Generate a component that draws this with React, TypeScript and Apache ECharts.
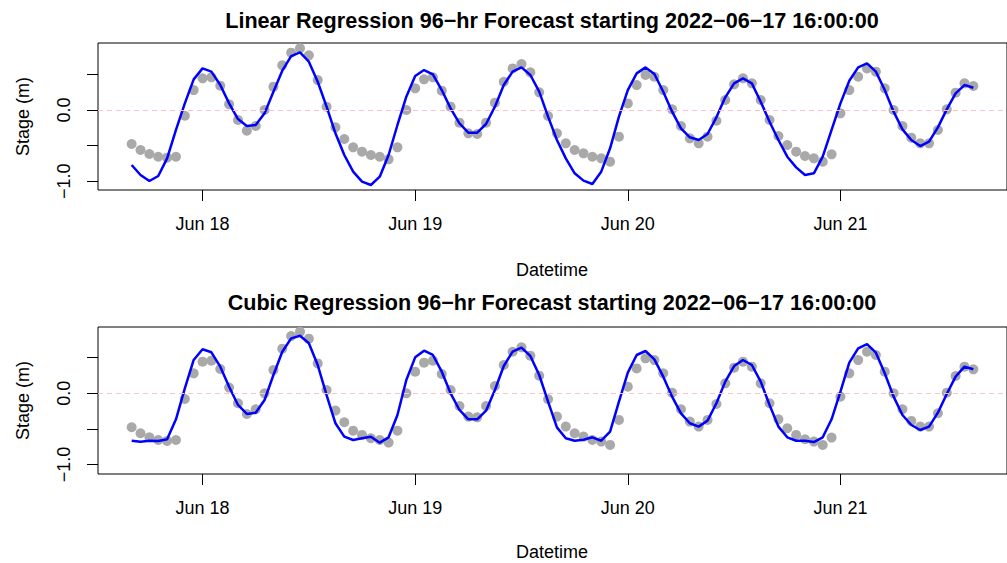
import React, { useEffect, useRef } from "react";
import * as echarts from "echarts";

// Hourly series starting 2022-06-17 16:00:00 (96 hours). x = hours since Jun 18 00:00
const startOffsetHours = -8;

const observed = [
  -0.477, -0.561, -0.617, -0.655, -0.668, -0.655, -0.08, 0.28, 0.444, 0.458, 0.341, 0.08,
  -0.14, -0.29, -0.224, 0.0, 0.327, 0.627, 0.804, 0.865, 0.767, 0.42, 0.047, -0.243,
  -0.407, -0.524, -0.584, -0.631, -0.655, -0.692, -0.524, 0.0, 0.304, 0.43, 0.458, 0.271,
  0.047, -0.178, -0.327, -0.337, -0.178, 0.103, 0.397, 0.584, 0.645, 0.528, 0.248, -0.084,
  -0.327, -0.467, -0.561, -0.608, -0.655, -0.678, -0.725, -0.374, 0.093, 0.35, 0.491, 0.467,
  0.28, 0.009, -0.224, -0.397, -0.467, -0.374, -0.15, 0.14, 0.36, 0.444, 0.374, 0.14,
  -0.14, -0.365, -0.491, -0.584, -0.645, -0.678, -0.725, -0.622, -0.047, 0.28, 0.467, 0.584,
  0.538, 0.304, 0.0, -0.224, -0.388, -0.467, -0.467, -0.28, 0.009, 0.243, 0.374, 0.337,
];

const linearForecast = [
  -0.771, -0.912, -0.996, -0.926, -0.678, -0.28, 0.093, 0.43, 0.584, 0.538, 0.35, 0.093,
  -0.127, -0.224, -0.21, -0.047, 0.257, 0.552, 0.757, 0.809, 0.678, 0.397, 0.047, -0.327,
  -0.631, -0.865, -1.005, -1.052, -0.935, -0.631, -0.21, 0.187, 0.477, 0.561, 0.5, 0.28,
  0.023, -0.187, -0.318, -0.318, -0.196, 0.047, 0.35, 0.538, 0.598, 0.491, 0.257, -0.093,
  -0.421, -0.678, -0.888, -0.991, -1.038, -0.865, -0.537, -0.093, 0.28, 0.514, 0.598, 0.505,
  0.257, -0.023, -0.257, -0.383, -0.421, -0.337, -0.103, 0.178, 0.374, 0.444, 0.374, 0.117,
  -0.164, -0.421, -0.655, -0.804, -0.912, -0.888, -0.655, -0.28, 0.093, 0.411, 0.598, 0.655,
  0.538, 0.28, -0.023, -0.271, -0.421, -0.505, -0.444, -0.243, 0.009, 0.234, 0.35, 0.313,
];

const cubicForecast = [
  -0.666, -0.68, -0.666, -0.67, -0.646, -0.365, 0.07, 0.468, 0.618, 0.576, 0.374, 0.093,
  -0.164, -0.29, -0.272, -0.094, 0.257, 0.584, 0.772, 0.809, 0.702, 0.397, -0.024, -0.421,
  -0.609, -0.656, -0.632, -0.609, -0.693, -0.618, -0.305, 0.187, 0.505, 0.598, 0.538, 0.304,
  0.0, -0.234, -0.365, -0.365, -0.244, 0.047, 0.383, 0.584, 0.641, 0.524, 0.257, -0.117,
  -0.478, -0.632, -0.666, -0.651, -0.618, -0.666, -0.539, -0.117, 0.29, 0.538, 0.594, 0.477,
  0.234, -0.047, -0.281, -0.421, -0.468, -0.384, -0.14, 0.164, 0.383, 0.468, 0.397, 0.164,
  -0.164, -0.468, -0.618, -0.666, -0.666, -0.684, -0.618, -0.365, 0.023, 0.43, 0.632, 0.692,
  0.57, 0.281, -0.047, -0.305, -0.445, -0.515, -0.468, -0.272, -0.01, 0.234, 0.374, 0.337,
];

const dayTicks = [0, 24, 48, 72];
const dayLabels = ["Jun 18", "Jun 19", "Jun 20", "Jun 21"];
const yTicks = [-1, -0.5, 0, 0.5];
const yLabelTicks = [-1, 0];

const titles = [
  "Linear Regression 96\u2212hr Forecast starting 2022\u221206\u221217 16:00:00",
  "Cubic Regression 96\u2212hr Forecast starting 2022\u221206\u221217 16:00:00",
];

const FONT = "'Liberation Sans', Arial, Helvetica, sans-serif";

export default function App() {
  const ref = useRef<HTMLDivElement>(null);
  useEffect(() => {
    if (!ref.current) return;
    const chart = echarts.init(ref.current, undefined, { renderer: "svg" });
    const times = observed.map((_, i) => startOffsetHours + i);
    const obsData = times.map((t, i) => [t, observed[i]]);
    const linData = times.map((t, i) => [t, linearForecast[i]]);
    const cubData = times.map((t, i) => [t, cubicForecast[i]]);

    const span = times[times.length - 1] - times[0];
    const xMin = times[0] - 0.04 * span;
    const xMax = times[times.length - 1] + 0.04 * span;

    const grids = [
      { left: 98, top: 43, width: 918, height: 147 },
      { left: 98, top: 327, width: 918, height: 147 },
    ];
    const yRanges = [
      { min: -1.122, max: 0.94 },
      { min: -1.133, max: 0.931 },
    ];

    const xAxes = grids.map((_, gi) => ({
      type: "value",
      gridIndex: gi,
      min: xMin,
      max: xMax,
      axisLine: { show: false, onZero: false },
      splitLine: { show: false },
      axisTick: {
        show: true,
        length: 11,
        customValues: dayTicks,
        lineStyle: { color: "#000", width: 1 },
      },
      axisLabel: {
        customValues: dayTicks,
        margin: 25,
        color: "#000",
        fontSize: 18,
        fontFamily: FONT,
        formatter: (v: number) => {
          const k = dayTicks.indexOf(v);
          return k >= 0 ? dayLabels[k] : "";
        },
      },
    }));

    const yAxes = grids.map((_, gi) => ({
      type: "value",
      gridIndex: gi,
      min: yRanges[gi].min,
      max: yRanges[gi].max,
      axisLine: { show: false, onZero: false },
      splitLine: { show: false },
      axisTick: {
        show: true,
        length: 11,
        customValues: yTicks,
        lineStyle: { color: "#000", width: 1 },
      },
      axisLabel: {
        customValues: yLabelTicks,
        rotate: 90,
        margin: 25,
        color: "#000",
        fontSize: 18,
        fontFamily: FONT,
        formatter: (v: number) => v.toFixed(1).replace("-", "\u2212"),
      },
    }));

    const series: any[] = [];
    [linData, cubData].forEach((fc, gi) => {
      series.push({
        type: "scatter",
        xAxisIndex: gi,
        yAxisIndex: gi,
        data: obsData,
        symbol: "circle",
        symbolSize: 10,
        itemStyle: { color: "#A9A9A9", opacity: 1 },
        markLine: {
          silent: true,
          symbol: "none",
          label: { show: false },
          lineStyle: { color: "#FFC0CB", type: [5, 4], width: 1, opacity: 1 },
          data: [{ yAxis: 0 }],
        },
        z: 2,
      });
      series.push({
        type: "line",
        xAxisIndex: gi,
        yAxisIndex: gi,
        data: fc,
        showSymbol: false,
        lineStyle: { color: "#0000FF", width: 2.5 },
        z: 3,
      });
    });

    const graphics: any[] = [];
    const titleY = [20, 302];
    const nameY = [270, 552];
    const stageY = [116.5, 400.5];
    for (let gi = 0; gi < 2; gi++) {
      graphics.push({
        type: "text",
        x: 552,
        y: titleY[gi],
        style: {
          text: titles[gi],
          fontSize: 21.6,
          fontWeight: "bold",
          fontFamily: FONT,
          fill: "#000",
          align: "center",
          verticalAlign: "middle",
        },
      });
      graphics.push({
        type: "text",
        x: 552,
        y: nameY[gi],
        style: {
          text: "Datetime",
          fontSize: 18,
          fontFamily: FONT,
          fill: "#000",
          align: "center",
          verticalAlign: "middle",
        },
      });
      graphics.push({
        type: "text",
        x: 23,
        y: stageY[gi],
        rotation: Math.PI / 2,
        style: {
          text: "Stage (m)",
          fontSize: 18,
          fontFamily: FONT,
          fill: "#000",
          align: "center",
          verticalAlign: "middle",
        },
      });
    }

    chart.setOption({
      animation: false,
      backgroundColor: "#fff",
      grid: grids.map((g) => ({
        ...g,
        show: true,
        borderColor: "#000",
        borderWidth: 1,
        backgroundColor: "transparent",
      })),
      xAxis: xAxes,
      yAxis: yAxes,
      series,
      graphic: graphics,
    });
    return () => chart.dispose();
  }, []);
  return (
    <div
      ref={ref}
      style={{ position: "fixed", left: 0, top: 0, width: 1007, height: 563 }}
    />
  );
}
